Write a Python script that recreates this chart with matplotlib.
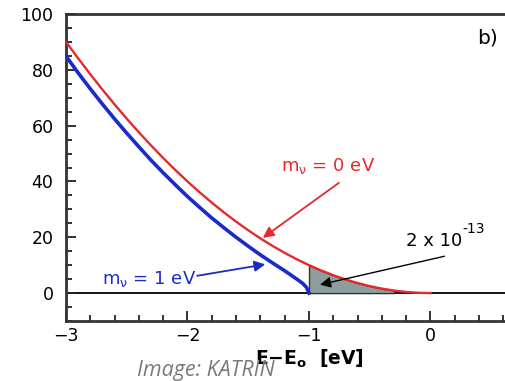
import numpy as np
import matplotlib.pyplot as plt
from matplotlib.ticker import MultipleLocator

# Values
# m_nu = 0 eV spectrum (red)
red_x = [-3.0, -2.9, -2.8, -2.7, -2.6, -2.5, -2.4, -2.3, -2.2, -2.1, -2.0,
         -1.9, -1.8, -1.7, -1.6, -1.5, -1.4, -1.3, -1.2, -1.1, -1.0,
         -0.9, -0.8, -0.7, -0.6, -0.5, -0.4, -0.3, -0.2, -0.1, 0.0]
red_y = [90.0, 84.1, 78.4, 72.9, 67.6, 62.5, 57.6, 52.9, 48.4, 44.1, 40.0,
         36.1, 32.4, 28.9, 25.6, 22.5, 19.6, 16.9, 14.4, 12.1, 10.0,
         8.1, 6.4, 4.9, 3.6, 2.5, 1.6, 0.9, 0.4, 0.1, 0.0]

# m_nu = 1 eV spectrum (blue)
blue_x = [-3.0, -2.9, -2.8, -2.7, -2.6, -2.5, -2.4, -2.3, -2.2, -2.1, -2.0,
          -1.9, -1.8, -1.7, -1.6, -1.5, -1.4, -1.3, -1.2, -1.15, -1.1,
          -1.05, -1.02, -1.0]
blue_y = [84.9, 78.9, 73.2, 67.7, 62.4, 57.3, 52.4, 47.6, 43.1, 38.8, 34.6,
          30.7, 26.9, 23.4, 20.0, 16.8, 13.7, 10.8, 8.0, 6.5, 5.0,
          3.4, 2.0, 0.0]

# shaded region (last part of spectrum)
shade_from = -1.0
shade_to = -0.3

x_ticks = [-3, -2, -1, 0]
x_ticklabels = ['\u22123', '\u22122', '\u22121', '0']

red = '#e42a2a'
blue = '#1a2bc8'

plt.rcParams['font.family'] = ['DejaVu Sans']

fig = plt.figure(figsize=(5.06, 3.81), dpi=100)
ax = fig.add_axes([66/506, 60/381, 486/506, 307/381])

rx = np.array(red_x)
ry = np.array(red_y)
m = (rx >= shade_from - 1e-9) & (rx <= shade_to + 1e-9)
ax.fill_between(rx[m], 0, ry[m], color='#8e9d9d', edgecolor='#333333', lw=1.0, zorder=2)

ax.axhline(0, color='black', lw=1.3, zorder=1)
ax.plot(red_x, red_y, color=red, lw=1.7, zorder=3)
ax.plot(blue_x, blue_y, color=blue, lw=2.6, zorder=3)

# labels + arrows
ax.text(-0.84, 45.5, 'm$_\\mathrm{\\nu}$ = 0 eV', color=red, fontsize=13,
        ha='center', va='center')
ax.annotate('', xy=(-1.38, 19.8), xytext=(-0.754, 39.5),
            arrowprops=dict(arrowstyle='-|>', color=red, lw=1.3,
                            mutation_scale=16, shrinkA=0, shrinkB=0))
ax.annotate('', xy=(-1.36, 10.3), xytext=(-1.92, 6.2),
            arrowprops=dict(arrowstyle='-|>', color=blue, lw=1.3,
                            mutation_scale=16, shrinkA=0, shrinkB=0))
ax.text(-1.93, 5.0, 'm$_\\mathrm{\\nu}$ = 1 eV', color=blue, fontsize=13,
        ha='right', va='center')
ax.annotate('', xy=(-0.91, 3.0), xytext=(0.115, 13.2),
            arrowprops=dict(arrowstyle='-|>', color='black', lw=1.0,
                            mutation_scale=16, shrinkA=0, shrinkB=0))
t = ax.text(-0.2, 18.8, '2 x 10', color='black', fontsize=13,
            ha='left', va='center')
ax.annotate('-13', xy=(1.0, 0.75), xycoords=t, fontsize=10,
            ha='left', va='bottom')
ax.text(0.47, 91.5, 'b)', fontsize=14.5, ha='center', va='center')

ax.set_xlim(-3, 1)
ax.set_ylim(-10, 100)
ax.xaxis.set_minor_locator(MultipleLocator(0.2))
ax.yaxis.set_major_locator(MultipleLocator(20))
ax.yaxis.set_minor_locator(MultipleLocator(5))
ax.set_xticks(x_ticks)
ax.set_xticklabels(x_ticklabels)
ax.tick_params(which='both', direction='in', top=False, right=False,
               color='#222222', width=1.3, labelsize=12.5)
ax.tick_params(which='major', length=7)
ax.tick_params(which='minor', length=4.5)
ax.tick_params(axis='y', pad=9)
ax.tick_params(axis='x', pad=4)
for s in ax.spines.values():
    s.set_linewidth(2.0)
    s.set_color('#333333')

fig.text(309/506, 1 - 359/381, 'E\u2212E$_\\mathbf{o}$  [eV]', ha='center', va='center',
         fontsize=13.5, fontweight='bold')
fig.text(137/506, 1 - 376/381, 'Image: KATRIN', ha='left', va='baseline',
         fontsize=15.5, style='italic', color='#7a7a7a', family='Open Sans')

fig.savefig('out.png', dpi=100)
